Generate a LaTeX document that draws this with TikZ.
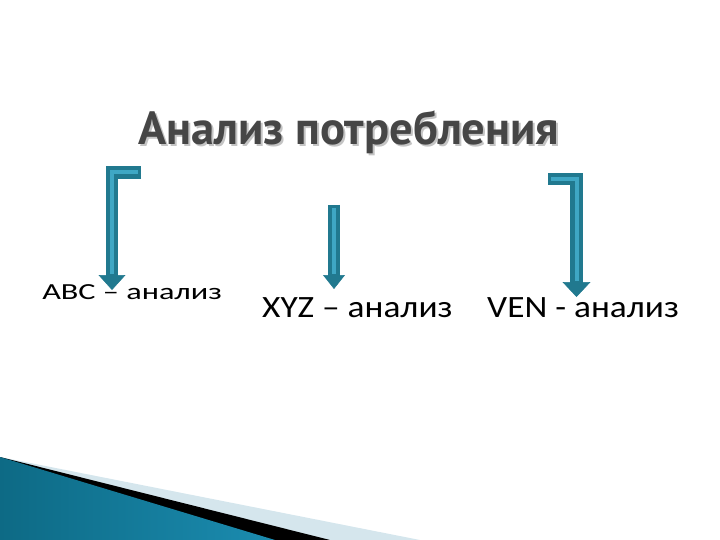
\documentclass[tikz,border=0pt]{standalone}
\usepackage{fontspec}
\setmainfont{Carlito}
\newfontfamily\titlefont{PT Sans}
\usetikzlibrary{arrows.meta}
\definecolor{arrowdark}{HTML}{21798F}
\definecolor{arrowlight}{HTML}{3FA7C4}
\definecolor{titlegray}{HTML}{464646}
\definecolor{shadowgray}{HTML}{C4C4C4}
\definecolor{tealdark}{HTML}{0D6A85}
\definecolor{teallight}{HTML}{5AC0E0}
\definecolor{tealmid}{HTML}{1B8CB0}
\definecolor{palestripe}{HTML}{D5E6ED}

\begin{document}
\begin{tikzpicture}[x=1pt,y=-1pt,
    shaft/.style={draw=arrowdark, line width=12.5pt},
    stripe/.style={draw=arrowlight, line width=4pt},
    head/.style={draw=arrowdark, line width=0.5pt, -{Triangle[width=27pt,length=15pt]}},
    caption/.style={inner sep=0pt, anchor=base west, xscale=1.14, font=\fontsize{31}{36}\selectfont}]
			\useasboundingbox (0,0) rectangle (720,540);
			%%%%%%%%%%%%%%%%%%%%%%%%%%%%%%%% corner decoration
			\fill[palestripe] (0,457)--(420,540)--(0,540)--cycle;
			\fill[black] (0,457)--(330,540)--(0,540)--cycle;
			\shade[left color=tealdark, middle color=teallight, right color=tealmid] (0,457)--(275,540)--(0,540)--cycle;
			%%%%%%%%%%%%%%%%%%%%%%%%%%%%%%%% title
			\node[inner sep=0pt, anchor=base west, text=shadowgray, font=\titlefont\bfseries\fontsize{46.5}{52}\selectfont] (titleShadow) at (140,147) {Анализ потребления};
			\node[inner sep=0pt, anchor=base west, text=titlegray, font=\titlefont\bfseries\fontsize{46.5}{52}\selectfont] (title) at (138,145) {Анализ потребления};
			%%%%%%%%%%%%%%%%%%%%%%%%%%%%%%%% labels
			\node[caption, xscale=1.23, font=\fontsize{23}{28}\selectfont] (abc) at (42,299) {ABC – анализ};
			\node[caption] (xyz) at (262,317) {XYZ – анализ};
			\node[caption] (ven) at (487,317) {VEN - анализ};
			%%%%%%%%%%%%%%%%%%%%%%%%%%%%%%%% arrows
			\coordinate (abcStart) at (141,172.5);
			\coordinate (abcBend) at (112,172.5);
			\coordinate (abcTip) at (112,290);
			\coordinate (xyzStart) at (334,205);
			\coordinate (xyzTip) at (334,289);
			\coordinate (venStart) at (548,179);
			\coordinate (venBend) at (576.5,179);
			\coordinate (venTip) at (576.5,297);
			\draw[shaft] (abcStart)--(abcBend)--([yshift=10pt]abcTip);
			\draw[stripe] ([xshift=-3pt]abcStart)--(abcBend)--([yshift=16pt]abcTip);
			\draw[head] ([yshift=16pt]abcTip)--(abcTip);
			\draw[shaft] (xyzStart)--([yshift=10pt]xyzTip);
			\draw[stripe] ([yshift=-3pt]xyzStart)--([yshift=15pt]xyzTip);
			\draw[head, -{Triangle[width=22pt,length=14pt]}] ([yshift=15pt]xyzTip)--(xyzTip);
			\draw[shaft] (venStart)--(venBend)--([yshift=10pt]venTip);
			\draw[stripe] ([xshift=3pt]venStart)--(venBend)--([yshift=16pt]venTip);
			\draw[head, -{Triangle[width=28pt,length=15pt]}] ([yshift=16pt]venTip)--(venTip);
		\end{tikzpicture}
\end{document}
